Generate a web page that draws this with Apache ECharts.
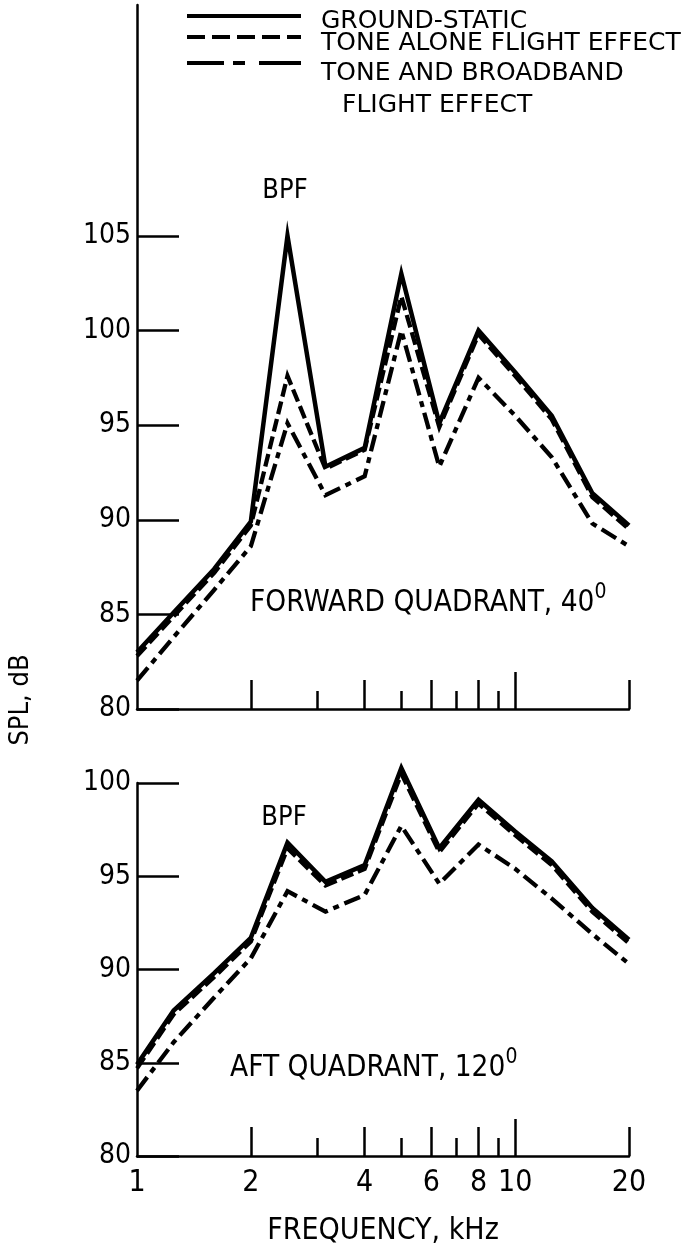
<!DOCTYPE html>
<html>
<head>
<meta charset="utf-8">
<script src="https://cdn.jsdelivr.net/npm/echarts@6/dist/echarts.min.js"></script>
<style>
  html, body { margin: 0; padding: 0; background: #fff; }
  #chart { width: 685px; height: 1247px; }
</style>
</head>
<body>
<div id="chart"></div>
<script>
// One-third-octave band centre frequencies, kHz
const freqs = [1, 1.25, 1.6, 2, 2.5, 3.15, 4, 5, 6.3, 8, 10, 12.5, 16, 20];

// Forward quadrant, 40 deg: SPL, dB
const groundFwd = [83.0, 85.1, 87.4, 89.9, 105.0, 92.8, 93.8, 103.0, 95.1, 100.0, 97.8, 95.5, 91.4, 89.7];
const toneFwd   = [82.8, 84.9, 87.2, 89.7, 97.6, 92.7, 93.7, 101.8, 94.9, 99.8, 97.6, 95.3, 91.2, 89.5];
const toneBbFwd = [81.5, 83.8, 86.3, 88.6, 95.1, 91.3, 92.3, 100.0, 92.8, 97.5, 95.5, 93.3, 89.8, 88.6];

// Aft quadrant, 120 deg: SPL, dB
const groundAft = [84.9, 87.8, 89.8, 91.7, 96.8, 94.7, 95.6, 100.8, 96.5, 99.1, 97.4, 95.8, 93.3, 91.6];
const toneAft   = [84.7, 87.6, 89.6, 91.5, 96.5, 94.5, 95.4, 100.5, 96.3, 98.9, 97.2, 95.6, 93.1, 91.4];
const toneBbAft = [83.5, 86.1, 88.5, 90.6, 94.2, 93.1, 94.0, 97.7, 94.6, 96.7, 95.4, 93.8, 91.9, 90.3];

// Axis ticks and labels
const fwdYTicks = [80, 85, 90, 95, 100, 105];
const aftYTicks = [80, 85, 90, 95, 100];
const xMajorTicks = [2, 4, 6, 8, 20];
const xMinorTicks = [3, 5, 7, 9];
const xDecadeTicks = [10];
const xLabels = [1, 2, 4, 6, 8, 10, 20];

const seriesNames = ['GROUND-STATIC', 'TONE ALONE FLIGHT EFFECT', 'TONE AND BROADBAND', 'FLIGHT EFFECT'];

const INK = '#000';
const FONT = '"DejaVu Sans Condensed", "Liberation Sans", sans-serif';
const KEY_FONT = '"DejaVu Sans", "Liberation Sans", sans-serif';
const styles = [
  { type: 'solid', width: 4.5 },
  { type: [13, 5], width: 4.3 },
  { type: [17, 6, 6, 6], width: 4.3 }
];

const pairs = ys => freqs.map((f, i) => [f, ys[i]]);

function xAxesFor(gridIndex, showLabels) {
  const base = {
    type: 'log', logBase: 10, min: 1, max: 20, gridIndex, position: 'bottom',
    splitLine: { show: false }, minorTick: { show: false }
  };
  const tick = (values, length) => ({
    show: true, inside: true, length, customValues: values, lineStyle: { color: INK, width: 2.5 }
  });
  return [
    Object.assign({}, base, {
      axisLine: { show: true, lineStyle: { color: INK, width: 2.5 } },
      axisTick: tick(xMajorTicks, 29),
      axisLabel: showLabels ? {
        show: true, customValues: xLabels, color: INK, fontFamily: FONT, fontSize: 30, margin: 12
      } : { show: false },
      name: showLabels ? 'FREQUENCY, kHz' : '',
      nameLocation: 'middle', nameGap: 60,
      nameTextStyle: { color: INK, fontFamily: FONT, fontSize: 30 }
    }),
    Object.assign({}, base, { axisLine: { show: false }, axisTick: tick(xMinorTicks, 18), axisLabel: { show: false } }),
    Object.assign({}, base, { axisLine: { show: false }, axisTick: tick(xDecadeTicks, 37), axisLabel: { show: false } })
  ];
}

function yAxisFor(gridIndex, max, ticks) {
  return {
    type: 'value', gridIndex, min: 80, max, position: 'left',
    splitLine: { show: false },
    axisLine: { show: true, lineStyle: { color: INK, width: 2.5 } },
    axisTick: { show: true, inside: true, length: 42, customValues: ticks, lineStyle: { color: INK, width: 2.5 } },
    axisLabel: { show: true, customValues: ticks, color: INK, fontFamily: FONT, fontSize: 28, margin: 6 }
  };
}

function makeSeries(name, ys, styleIdx, xAxisIndex, yAxisIndex) {
  return {
    name, type: 'line', data: pairs(ys), xAxisIndex, yAxisIndex,
    showSymbol: false, symbol: 'none', silent: true, animation: false, clip: false,
    lineStyle: { color: INK, width: styles[styleIdx].width, type: styles[styleIdx].type, cap: 'butt', join: 'miter' },
    z: 3 - styleIdx
  };
}

// Key: sample lines and their labels
const keyRows = [
  { y: 16, ty: 21, dash: null },
  { y: 37, ty: 43.5, dash: [18, 7] },
  { y: 63, ty: 73, dash: [37, 9, 12, 14, 60] }
];
const keyGraphics = [];
keyRows.forEach((r, i) => {
  keyGraphics.push({
    type: 'line', shape: { x1: 187, y1: r.y, x2: 301, y2: r.y },
    style: { stroke: INK, lineWidth: 4, lineDash: r.dash }
  });
  keyGraphics.push({
    type: 'text', x: 321, y: r.ty,
    style: { text: seriesNames[i], fill: INK, font: '25px ' + KEY_FONT, textVerticalAlign: 'middle' }
  });
});
keyGraphics.push({
  type: 'text', x: 342, y: 105,
  style: { text: seriesNames[3], fill: INK, font: '25px ' + KEY_FONT, textVerticalAlign: 'middle' }
});

const supRich = {
  m: { fill: INK, fontFamily: FONT, fontSize: 29.5 },
  s: { fill: INK, fontFamily: FONT, fontSize: 21, verticalAlign: 'top', padding: [0, 0, 20, 0] }
};

const chart = echarts.init(document.getElementById('chart'), null, { renderer: 'canvas' });
chart.setOption({
  backgroundColor: '#fff',
  animation: false,
  grid: [
    { left: 137, right: 56, top: 5, height: 704 },
    { left: 137, right: 56, top: 783, height: 384 }
  ],
  xAxis: [].concat(xAxesFor(0, false), xAxesFor(1, true)),
  yAxis: [yAxisFor(0, 117.2, fwdYTicks), yAxisFor(1, 100, aftYTicks)],
  series: [
    makeSeries(seriesNames[2], toneBbFwd, 2, 0, 0),
    makeSeries(seriesNames[1], toneFwd, 1, 0, 0),
    makeSeries(seriesNames[0], groundFwd, 0, 0, 0),
    makeSeries(seriesNames[2], toneBbAft, 2, 3, 1),
    makeSeries(seriesNames[1], toneAft, 1, 3, 1),
    makeSeries(seriesNames[0], groundAft, 0, 3, 1)
  ],
  graphic: keyGraphics.concat([
    { type: 'text', x: 285, y: 191, style: { text: 'BPF', fill: INK, font: '27px ' + FONT, textAlign: 'center', textVerticalAlign: 'middle' } },
    { type: 'text', x: 284, y: 818, style: { text: 'BPF', fill: INK, font: '27px ' + FONT, textAlign: 'center', textVerticalAlign: 'middle' } },
    { type: 'text', x: 250, y: 603, style: { text: '{m|FORWARD QUADRANT, 40}{s|0}', textVerticalAlign: 'middle', rich: supRich } },
    { type: 'text', x: 230, y: 1068, style: { text: '{m|AFT QUADRANT, 120}{s|0}', textVerticalAlign: 'middle', rich: supRich } },
    { type: 'text', x: 21, y: 700, rotation: Math.PI / 2, style: { text: 'SPL, dB', fill: INK, font: '27px ' + FONT, textAlign: 'center', textVerticalAlign: 'middle' } }
  ])
});
</script>
</body>
</html>
